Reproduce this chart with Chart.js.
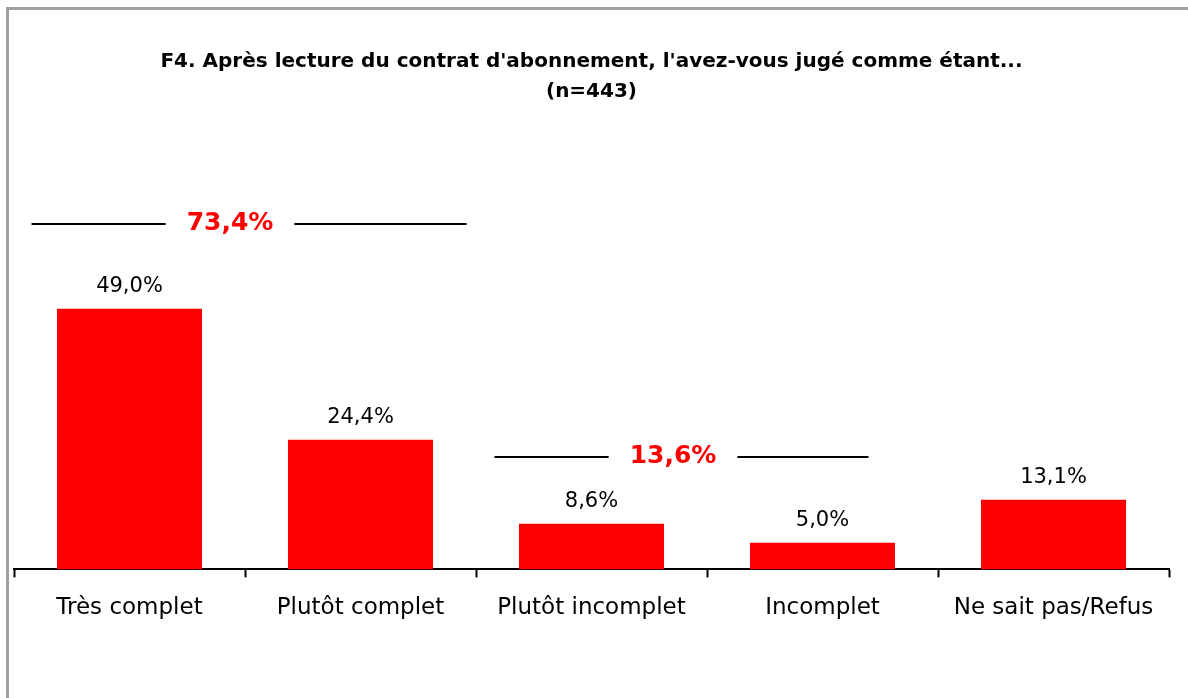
<!doctype html>
<html lang="fr">
  <head>
    <meta charset="utf-8">
    <title>F4 - contrat d'abonnement</title>
    <style>
      * {
        margin: 0;
        padding: 0;
      }
      body {
        width: 1188px;
        height: 698px;
        background: white;
        overflow: hidden;
        position: relative;
      }
      .frame {
        position: absolute;
        left: 6px;
        top: 7px;
        width: 1300px;
        height: 800px;
        border-left: 3px solid #a0a0a0;
        border-top: 3px solid #a0a0a0;
      }
      .chartBox {
        position: absolute;
        left: 0;
        top: 0;
        width: 1188px;
        height: 698px;
      }
    </style>
  </head>
  <body>
    <div class="frame"></div>
    <div class="chartBox">
      <canvas id="myChart"></canvas>
    </div>
    <script src="https://cdn.jsdelivr.net/npm/chart.js"></script>
    <script>
    // setup
    const categories = ['Très complet', 'Plutôt complet', 'Plutôt incomplet', 'Incomplet', 'Ne sait pas/Refus'];
    const values = [49.0, 24.4, 8.6, 5.0, 13.1];
    const groupTotals = ['73,4%', '13,6%'];
    const groupMembers = [[0, 1], [2, 3]];

    const fmt = v => v.toFixed(1).replace('.', ',') + '%';

    // value labels above the bars
    const valueLabels = {
      id: 'valueLabels',
      afterDatasetsDraw(chart) {
        const ctx = chart.ctx;
        const meta = chart.getDatasetMeta(0);
        ctx.save();
        ctx.font = '21px "DejaVu Sans"';
        ctx.fillStyle = '#000';
        ctx.textAlign = 'center';
        ctx.textBaseline = 'bottom';
        meta.data.forEach((bar, i) => {
          ctx.fillText(fmt(values[i]), bar.x, bar.y - 12);
        });
        ctx.restore();
      }
    };

    // group totals with lines on both sides
    const groupBrackets = {
      id: 'groupBrackets',
      afterDatasetsDraw(chart, args, opts) {
        const ctx = chart.ctx;
        const x = chart.scales.x;
        const y = chart.scales.y;
        ctx.save();
        ctx.font = 'bold 25px "DejaVu Sans"';
        ctx.textAlign = 'center';
        ctx.textBaseline = 'middle';
        groupMembers.forEach((g, k) => {
          const o = opts.groups[k];
          const a = x.getPixelForValue(g[0]);
          const b = x.getPixelForValue(g[g.length - 1]);
          const py = Math.round(y.getPixelForValue(o.level));
          const left = a + o.startOff;
          const right = b + o.endOff;
          const tx = (a + b) / 2 + o.textShift;
          const half = ctx.measureText(groupTotals[k]).width / 2 + 21;
          ctx.strokeStyle = '#000';
          ctx.lineWidth = 2;
          ctx.beginPath();
          ctx.moveTo(left, py);
          ctx.lineTo(tx - half, py);
          ctx.moveTo(tx + half, py);
          ctx.lineTo(right, py);
          ctx.stroke();
          ctx.fillStyle = '#ff0000';
          ctx.fillText(groupTotals[k], tx, py - 1);
        });
        ctx.restore();
      }
    };

    const data = {
      labels: categories,
      datasets: [{
        data: values,
        backgroundColor: '#ff0000',
        borderWidth: 0,
        categoryPercentage: 1,
        barPercentage: 0.628
      }]
    };

    // config
    const config = {
      type: 'bar',
      data,
      options: {
        responsive: false,
        animation: false,
        layout: {
          padding: { top: 37, left: 14, right: 19, bottom: 59 }
        },
        plugins: {
          legend: { display: false },
          tooltip: { enabled: false },
          title: {
            display: true,
            text: ["F4. Après lecture du contrat d'abonnement, l'avez-vous jugé comme étant...", '(n=443)'],
            color: '#000',
            font: { family: '"DejaVu Sans"', size: 20, weight: 'bold', lineHeight: 1.5 },
            padding: { top: 10, bottom: 37 }
          },
          groupBrackets: {
            groups: [
              { level: 65, startOff: -98, endOff: 106, textShift: -15 },
              { level: 21.2, startOff: -97, endOff: 46, textShift: -34 }
            ]
          }
        },
        scales: {
          x: {
            grid: {
              display: true,
              drawOnChartArea: false,
              drawTicks: true,
              tickLength: 8,
              tickWidth: 2,
              tickColor: '#000',
              offset: true
            },
            border: { display: true, color: '#000', width: 2 },
            ticks: {
              color: '#000',
              padding: 17,
              maxRotation: 0,
              font: { family: '"DejaVu Sans"', size: 23 }
            }
          },
          y: {
            display: false,
            min: 0,
            max: 80
          }
        }
      },
      plugins: [valueLabels, groupBrackets]
    };

    const canvas = document.getElementById('myChart');
    canvas.width = 1188;
    canvas.height = 698;
    const myChart = new Chart(canvas, config);
    </script>
  </body>
</html>
